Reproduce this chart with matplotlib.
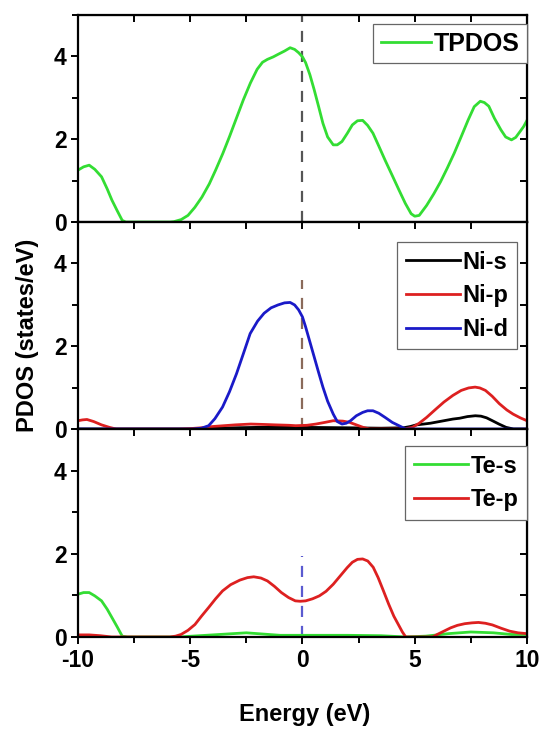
import matplotlib
matplotlib.use("Agg")
import matplotlib.pyplot as plt
from matplotlib.ticker import MultipleLocator

plt.rcParams['font.family'] = ['Liberation Sans', 'DejaVu Sans']
plt.rcParams['font.weight'] = 'bold'

# values (energy in eV, PDOS in states/eV)
tpdos_e = [-10, -9.75, -9.5, -9.25, -8.95, -8.7, -8.49, -8.25, -8.03, -7.87, -7.0, -6.2, -5.9,
           -5.72, -5.4, -5.1, -4.8, -4.48, -4.15, -3.87, -3.55, -3.25, -2.93, -2.63, -2.32,
           -2.02, -1.78, -1.56, -1.3, -1.09, -0.8, -0.55, -0.35, -0.17, 0.0, 0.14, 0.33, 0.52,
           0.72, 0.91, 1.12, 1.37, 1.55, 1.76, 2.0, 2.22, 2.45, 2.68, 2.9, 3.14, 3.4, 3.68,
           4.0, 4.3, 4.58, 4.84, 5.0, 5.2, 5.53, 5.85, 6.15, 6.45, 6.76, 7.08, 7.38, 7.65,
           7.92, 8.1, 8.3, 8.55, 8.84, 9.05, 9.31, 9.5, 9.69, 9.85, 10]
tpdos_v = [1.25, 1.33, 1.37, 1.27, 1.09, 0.8, 0.53, 0.27, 0.04, 0.0, 0.0, 0.0, 0.0,
           0.01, 0.06, 0.16, 0.35, 0.6, 0.92, 1.25, 1.65, 2.06, 2.52, 2.95, 3.35,
           3.68, 3.85, 3.92, 3.98, 4.04, 4.12, 4.2, 4.16, 4.08, 3.98, 3.84, 3.55, 3.19,
           2.78, 2.38, 2.05, 1.86, 1.86, 1.94, 2.14, 2.34, 2.44, 2.45, 2.33, 2.14, 1.83, 1.49,
           1.12, 0.77, 0.45, 0.2, 0.14, 0.16, 0.4, 0.68, 0.97, 1.3, 1.66, 2.07, 2.46, 2.78,
           2.91, 2.88, 2.79, 2.5, 2.22, 2.05, 1.98, 2.04, 2.18, 2.3, 2.45]

ni_s_e = [-10, -5.0, -4.0, -2.0, 0.0, 2.0, 3.5, 4.5, 4.8, 5.07, 5.4, 5.7, 6.0, 6.3, 6.7, 7.0,
          7.35, 7.7, 7.95, 8.2, 8.46, 8.75, 9.07, 9.4, 10]
ni_s_v = [0.0, 0.0, 0.02, 0.04, 0.04, 0.03, 0.02, 0.03, 0.06, 0.1, 0.12, 0.14, 0.17, 0.2, 0.24,
          0.26, 0.3, 0.32, 0.31, 0.27, 0.2, 0.12, 0.04, 0.0, 0.0]

ni_p_e = [-10, -9.8, -9.6, -9.3, -8.95, -8.6, -8.3, -5.5, -5.0, -4.5, -4.0, -3.5, -3.0, -2.3,
          -1.7, -1.2, -0.6, -0.3, 0.2, 0.6, 1.0, 1.37, 1.8, 2.1, 2.4, 2.7, 3.0, 4.5, 4.9, 5.2,
          5.53, 5.9, 6.3, 6.7, 7.07, 7.4, 7.69, 7.9, 8.15, 8.45, 8.77, 9.1, 9.38, 9.7, 10]
ni_p_v = [0.2, 0.22, 0.23, 0.18, 0.1, 0.04, 0.0, 0.0, 0.01, 0.03, 0.06, 0.08, 0.1, 0.12,
          0.11, 0.1, 0.09, 0.08, 0.09, 0.12, 0.16, 0.2, 0.19, 0.16, 0.1, 0.04, 0.0, 0.0, 0.04, 0.14,
          0.28, 0.46, 0.65, 0.81, 0.93, 0.99, 1.01, 0.99, 0.93, 0.79, 0.61, 0.46, 0.36, 0.27, 0.2]

ni_d_e = [-10, -5.5, -4.9, -4.5, -4.18, -3.9, -3.56, -3.25, -2.94, -2.63, -2.33, -2.0, -1.71,
          -1.4, -1.09, -0.8, -0.55, -0.35, -0.17, 0.0, 0.14, 0.33, 0.52, 0.72, 0.91, 1.12,
          1.37, 1.55, 1.76, 1.95, 2.14, 2.4, 2.68, 2.9, 3.14, 3.4, 3.68, 4.0, 4.3, 4.6, 6.0, 10]
ni_d_v = [0.0, 0.0, 0.0, 0.02, 0.08, 0.25, 0.53, 0.9, 1.33, 1.82, 2.3, 2.6, 2.79,
          2.92, 2.99, 3.04, 3.05, 2.99, 2.87, 2.7, 2.46, 2.1, 1.74, 1.36, 1.01, 0.67,
          0.36, 0.18, 0.12, 0.14, 0.2, 0.32, 0.4, 0.44, 0.44, 0.38, 0.28, 0.16, 0.08, 0.0, 0.0, 0.0]

te_s_e = [-10, -9.75, -9.5, -9.25, -8.95, -8.7, -8.49, -8.25, -8.03, -7.8, -5.5, -4.0, -2.5,
          -1.0, 0.5, 2.0, 3.5, 4.6, 5.5, 6.5, 7.5, 8.5, 9.3, 10]
te_s_v = [1.03, 1.07, 1.07, 0.99, 0.87, 0.67, 0.47, 0.24, 0.02, 0.0, 0.0, 0.05, 0.1,
          0.04, 0.04, 0.04, 0.03, 0.0, 0.02, 0.08, 0.12, 0.1, 0.06, 0.06]

te_p_e = [-10, -9.5, -9.0, -8.5, -5.9, -5.65, -5.41, -5.1, -4.79, -4.5, -4.18, -3.87, -3.56,
          -3.2, -2.79, -2.45, -2.17, -1.85, -1.56, -1.25, -0.94, -0.62, -0.32, -0.1, 0.14,
          0.45, 0.75, 1.05, 1.37, 1.68, 1.99, 2.22, 2.45, 2.68, 2.91, 3.15, 3.37, 3.6, 3.84,
          4.07, 4.3, 4.45, 4.6, 5.8, 6.0, 6.3, 6.6, 6.9, 7.23, 7.55, 7.84, 8.15, 8.46, 8.85,
          9.23, 9.6, 10]
te_p_v = [0.05, 0.05, 0.03, 0.0, 0.0, 0.02, 0.06, 0.16, 0.3, 0.5, 0.71, 0.92, 1.11,
          1.26, 1.37, 1.43, 1.45, 1.42, 1.35, 1.22, 1.07, 0.95, 0.87, 0.86, 0.87,
          0.92, 0.99, 1.1, 1.27, 1.47, 1.67, 1.8, 1.87, 1.88, 1.83, 1.68, 1.43, 1.12, 0.79,
          0.5, 0.27, 0.12, 0.0, 0.0, 0.06, 0.14, 0.22, 0.28, 0.32, 0.34, 0.35, 0.33, 0.29, 0.21,
          0.14, 0.1, 0.08]

fermi = 0.0
fermi_top = [5.0, 3.6, 1.95]   # height of the dashed Fermi-level line in each panel
fermi_colors = ['#555555', '#8a6a5a', '#5a5ad0']

green = '#33dd33'
red = '#dd2020'
blue = '#1a1ac8'

fig = plt.figure(figsize=(5.43, 7.34), dpi=100)
left, width, h = 0.1436, 0.8269, 0.2827
bottoms = [0.6975, 0.4155, 0.1322]
axes = [fig.add_axes([left, b, width, h]) for b in bottoms]

lw = 2.0
axes[0].plot(tpdos_e, tpdos_v, color=green, lw=lw, label='TPDOS')
axes[1].plot(ni_s_e, ni_s_v, color='black', lw=lw, label='Ni-s')
axes[1].plot(ni_p_e, ni_p_v, color=red, lw=lw, label='Ni-p')
axes[1].plot(ni_d_e, ni_d_v, color=blue, lw=lw, label='Ni-d')
axes[2].plot(te_s_e, te_s_v, color=green, lw=lw, label='Te-s')
axes[2].plot(te_p_e, te_p_v, color=red, lw=lw, label='Te-p')

for i, ax in enumerate(axes):
    ax.plot([fermi, fermi], [0, fermi_top[i]], color=fermi_colors[i], lw=1.6,
            dashes=(5, 4), zorder=1)
    ax.set_xlim(-10, 10)
    ax.set_ylim(0, 5)
    for s in ax.spines.values():
        s.set_linewidth(1.6)
    ax.xaxis.set_major_locator(MultipleLocator(5))
    ax.xaxis.set_minor_locator(MultipleLocator(2.5))
    ax.yaxis.set_major_locator(MultipleLocator(2))
    ax.yaxis.set_minor_locator(MultipleLocator(1))
    ax.tick_params(which='both', width=1.4, labelsize=16.5)
    ax.tick_params(which='major', length=5)
    ax.tick_params(which='minor', length=4)
    ax.tick_params(axis='both', which='both', direction='out', top=False, right=False)
    ax.tick_params(axis='y', pad=3)
    if i < 2:
        ax.tick_params(axis='x', labelbottom=False)
    ax.set_yticks([0, 2, 4])
    # inward ticks on top and right sides
    tx = ax.secondary_xaxis('top')
    tx.set_xticks([-7.5, -5, -2.5, 0, 2.5, 5, 7.5])
    tx.tick_params(direction='in', length=5, width=1.4, labeltop=False)
    ry = ax.secondary_yaxis('right')
    ry.set_yticks([1, 2, 3, 4])
    ry.tick_params(direction='in', length=5, width=1.4, labelright=False)
    for lab in ax.get_xticklabels() + ax.get_yticklabels():
        lab.set_fontweight('bold')

axes[2].set_xticks([-10, -5, 0, 5, 10])
axes[2].set_xticklabels(['-10', '-5', '0', '5', '10'], fontweight='bold')

leg_kw = dict(loc='upper right', fancybox=False, framealpha=1, borderaxespad=0,
              handlelength=2.0, handletextpad=0.12, borderpad=0.3, labelspacing=0.3,
              prop={'weight': 'bold', 'size': 18})
l0 = axes[0].legend(bbox_to_anchor=(1.0, 0.952), **leg_kw)
leg_kw.update(prop={'weight': 'bold', 'size': 17}, handlelength=2.3, labelspacing=0.45,
              borderpad=0.35)
l1 = axes[1].legend(bbox_to_anchor=(0.978, 0.899), **leg_kw)
l2 = axes[2].legend(bbox_to_anchor=(1.0, 0.918), **leg_kw)
for lg in (l0, l1, l2):
    lg.get_frame().set_edgecolor('#666666')
    lg.get_frame().set_linewidth(0.9)

fig.text(305 / 543, 1 - 715 / 734, 'Energy (eV)', ha='center', va='center',
         fontsize=17, fontweight='bold')
fig.text(28 / 543, 1 - 335 / 734, 'PDOS (states/eV)', ha='center', va='center',
         rotation=90, fontsize=17, fontweight='bold')

fig.savefig('out.png', dpi=100)
